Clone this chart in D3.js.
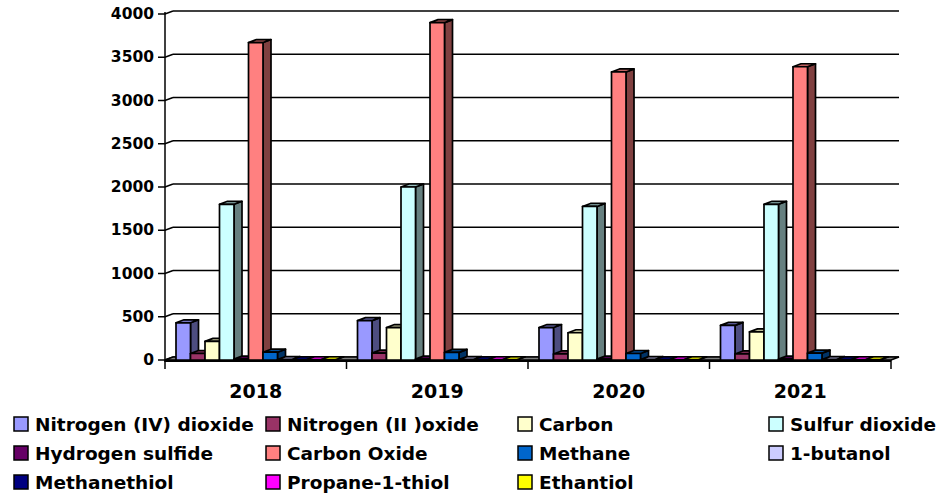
<!DOCTYPE html>
<html>
<head>
<meta charset="utf-8">
<script src="https://cdn.jsdelivr.net/npm/d3@7"></script>
<style>
  body { margin: 0; background: #fff; }
  text { font-family: "DejaVu Sans", sans-serif; font-weight: bold; fill: #000; }
</style>
</head>
<body>
<div id="chart"></div>
<script>
// data
const years = ["2018", "2019", "2020", "2021"];
const gases = ["Nitrogen (IV) dioxide", "Nitrogen (II )oxide", "Carbon", "Sulfur dioxide",
  "Hydrogen sulfide", "Carbon Oxide", "Methane", "1-butanol",
  "Methanethiol", "Propane-1-thiol", "Ethantiol"];
const colors = ["#9999ff", "#993366", "#ffffcc", "#ccffff", "#660066", "#ff8080",
  "#0066cc", "#ccccff", "#000080", "#ff00ff", "#ffff00"];
const v2018 = [430, 75, 215, 1800, 10, 3670, 90, 4, 3, 3, 3];
const v2019 = [455, 80, 375, 2000, 10, 3900, 88, 4, 3, 3, 3];
const v2020 = [375, 70, 315, 1775, 10, 3330, 75, 4, 3, 3, 3];
const v2021 = [400, 70, 325, 1800, 10, 3390, 80, 4, 3, 3, 3];
const yTicks = [0, 500, 1000, 1500, 2000, 2500, 3000, 3500, 4000];

const values = [v2018, v2019, v2020, v2021];
const W = 939, H = 495;
const DX = 8, DY = -3;   // depth offset of the 3d look

const svg = d3.select("#chart").append("svg")
  .attr("width", W).attr("height", H);

const y = d3.scaleLinear().domain([0, 4000]).range([360, 14]);
const x0 = d3.scaleBand().domain(years).range([165, 891]);
const x1 = d3.scaleBand().domain(gases).range([11, x0.bandwidth() - 11]);

const left = x0.range()[0], right = x0.range()[1];

// back wall gridlines + slanted ticks
const grid = svg.append("g");
yTicks.forEach(t => {
  const yy = y(t);
  grid.append("line")
    .attr("x1", left + DX).attr("x2", right + DX)
    .attr("y1", yy + DY).attr("y2", yy + DY)
    .attr("stroke", "#000").attr("stroke-width", 1.5);
  grid.append("polyline")
    .attr("points", [[left - 7, yy], [left, yy], [left + DX, yy + DY]].join(" "))
    .attr("fill", "none").attr("stroke", "#000").attr("stroke-width", 1.5);
  grid.append("text")
    .attr("x", left - 11).attr("y", yy)
    .attr("text-anchor", "end").attr("dominant-baseline", "central")
    .style("font-size", "15.5px")
    .text(t);
});

// y axis line
svg.append("line")
  .attr("x1", left).attr("x2", left)
  .attr("y1", y(4000) - 2).attr("y2", y(0) + 2)
  .attr("stroke", "#000").attr("stroke-width", 1.5);

// floor
svg.append("path")
  .attr("d", `M${left},${y(0)} L${right},${y(0)} L${right + DX},${y(0) + DY} L${left + DX},${y(0) + DY} Z`)
  .attr("fill", "#808080").attr("stroke", "#000").attr("stroke-width", 1.5);
svg.append("line")
  .attr("x1", left).attr("x2", right)
  .attr("y1", y(0) + 1).attr("y2", y(0) + 1)
  .attr("stroke", "#000").attr("stroke-width", 2);

// category ticks
const cuts = years.map(c => x0(c)).concat([right]);
svg.selectAll(".ctick").data(cuts).enter().append("line")
  .attr("x1", d => d).attr("x2", d => d)
  .attr("y1", y(0)).attr("y2", y(0) + 9)
  .attr("stroke", "#000").attr("stroke-width", 1.5);

svg.selectAll(".clabel").data(years).enter().append("text")
  .attr("x", d => x0(d) + x0.bandwidth() / 2)
  .attr("y", 391)
  .attr("text-anchor", "middle").attr("dominant-baseline", "central")
  .style("font-size", "19px")
  .text(d => d);

// bars
function shade(c, k) {
  const r = d3.rgb(c);
  return d3.rgb(r.r * k, r.g * k, r.b * k).toString();
}
const bars = [];
years.forEach((yr, ci) => {
  gases.forEach((g, si) => {
    bars.push({ yr, g, v: values[ci][si], c: colors[si] });
  });
});
const bg = svg.append("g");
bars.forEach(b => {
  const xa = x0(b.yr) + x1(b.g), xb = xa + x1.bandwidth();
  const y0 = y(0), yt = y(b.v);
  const g = bg.append("g")
    .attr("stroke", "#000").attr("stroke-width", 1.7).attr("stroke-linejoin", "round");
  // side
  g.append("path")
    .attr("d", `M${xb},${y0} L${xb + DX},${y0 + DY} L${xb + DX},${yt + DY} L${xb},${yt} Z`)
    .attr("fill", shade(b.c, 0.5));
  // top
  g.append("path")
    .attr("d", `M${xa},${yt} L${xb},${yt} L${xb + DX},${yt + DY} L${xa + DX},${yt + DY} Z`)
    .attr("fill", shade(b.c, 0.75));
  // front
  g.append("rect")
    .attr("x", xa).attr("y", yt)
    .attr("width", xb - xa).attr("height", Math.max(0.5, y0 - yt))
    .attr("fill", b.c);
});

// legend
const colX = [14, 266, 518, 769];
const rowY = [424, 453, 482];
const leg = svg.append("g");
gases.forEach((g, i) => {
  const cx = colX[i % 4], cy = rowY[Math.floor(i / 4)];
  leg.append("rect")
    .attr("x", cx).attr("y", cy - 7)
    .attr("width", 14).attr("height", 14)
    .attr("fill", colors[i]).attr("stroke", "#000").attr("stroke-width", 1.5);
  leg.append("text")
    .attr("x", cx + 21).attr("y", cy)
    .attr("dominant-baseline", "central")
    .style("font-size", "18.5px")
    .text(g);
});
</script>
</body>
</html>
